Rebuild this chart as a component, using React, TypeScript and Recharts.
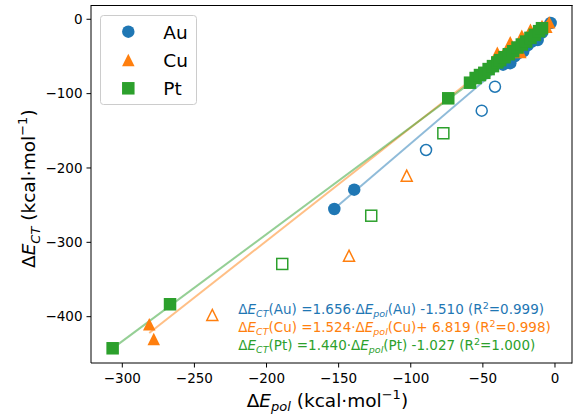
import React from 'react';
import { ScatterChart, Scatter, XAxis, YAxis, ReferenceLine } from 'recharts';

const FONT = '"DejaVu Sans", sans-serif';
const BLUE = '#1f77b4';
const ORANGE = '#ff7f0e';
const GREEN = '#2ca02c';

const xTicks = [-300, -250, -200, -150, -100, -50, 0];
const yTicks = [0, -100, -200, -300, -400];
const xDomain = [-321.7, 11.8];
const yDomain = [-462.3, 19.2];

// Au (filled = used in fit, open = excluded)
const auFilled = [
  { x: -153.0, y: -255.2 }, { x: -139.2, y: -229.2 },
  { x: -36, y: -61 }, { x: -33, y: -58 }, { x: -31, y: -59 }, { x: -28, y: -50 },
  { x: -25, y: -45 }, { x: -22, y: -43 }, { x: -19, y: -35 }, { x: -16, y: -30 },
  { x: -14, y: -27 }, { x: -12, y: -28 }, { x: -9, y: -18 }, { x: -3, y: -5 },
];
const auOpen = [
  { x: -41.6, y: -90.7 }, { x: -50.8, y: -122.9 }, { x: -89.4, y: -175.8 },
];

// Cu
const cuFilled = [
  { x: -281.3, y: -410.2 }, { x: -278.2, y: -430.0 },
  { x: -42, y: -57 }, { x: -40, y: -45 }, { x: -36, y: -48 }, { x: -31, y: -31 },
  { x: -28, y: -38 }, { x: -24, y: -44 }, { x: -23, y: -22 }, { x: -20, y: -27 },
  { x: -17, y: -14 }, { x: -16, y: -19 }, { x: -12, y: -12 }, { x: -9, y: -9 },
  { x: -6, y: -10 }, { x: -4, y: -4 },
];
const cuOpen = [
  { x: -102.8, y: -210.4 }, { x: -142.8, y: -318.0 }, { x: -237.6, y: -397.7 },
];

// Pt
const ptFilled = [
  { x: -306.7, y: -442.5 }, { x: -266.9, y: -383.3 }, { x: -74.0, y: -106.3 },
  { x: -58.9, y: -85.3 }, { x: -55, y: -79 }, { x: -52, y: -75 }, { x: -49, y: -72 },
  { x: -46, y: -67 }, { x: -43, y: -63 }, { x: -40, y: -58 }, { x: -38, y: -55 },
  { x: -35, y: -51 }, { x: -32, y: -47 }, { x: -29, y: -43 }, { x: -26, y: -38 },
  { x: -23, y: -34 }, { x: -20, y: -30 }, { x: -17, y: -25 }, { x: -14, y: -21 },
  { x: -11, y: -16 }, { x: -9, y: -12 },
];
const ptOpen = [
  { x: -77.4, y: -153.3 }, { x: -127.4, y: -264.2 }, { x: -189.1, y: -329.1 },
];

// Linear fits shown in annotation
const metals = ['Au', 'Cu', 'Pt'];
const slopes = [1.656, 1.524, 1.44];
const intercepts = [-1.51, 6.819, -1.027];
const r2s = [0.999, 0.998, 1.0];
const colors = [BLUE, ORANGE, GREEN];
const filledSets = [auFilled, cuFilled, ptFilled];

const MS = 12.5;

const fmt = (v: number) => (v < 0 ? '\u2212' + Math.abs(v) : String(v));

const circleShape = (color: string, open: boolean) => (p: any) => (
  <circle cx={p.cx} cy={p.cy} r={MS / 2 - (open ? 0.75 : 0)}
    fill={open ? 'none' : color} stroke={open ? color : 'none'} strokeWidth={1.5} />
);
const triShape = (color: string, open: boolean) => (p: any) => {
  const h = MS / 2 - (open ? 0.75 : 0);
  const d = `M${p.cx},${p.cy - h} L${p.cx - h},${p.cy + h} L${p.cx + h},${p.cy + h} Z`;
  return <path d={d} fill={open ? 'none' : color} stroke={open ? color : 'none'} strokeWidth={1.5} strokeLinejoin="miter" />;
};
const sqShape = (color: string, open: boolean) => (p: any) => {
  const h = MS / 2 - (open ? 0.75 : 0);
  return <rect x={p.cx - h} y={p.cy - h} width={2 * h} height={2 * h}
    fill={open ? 'none' : color} stroke={open ? color : 'none'} strokeWidth={1.5} />;
};

function fitSegment(points: { x: number; y: number }[], slope: number, intercept: number) {
  const xs = points.map((p) => p.x);
  const x0 = Math.min(...xs);
  const x1 = Math.max(...xs);
  return [
    { x: x0, y: slope * x0 + intercept },
    { x: x1, y: slope * x1 + intercept },
  ];
}

const axisTick = { fontSize: 13.5, fill: '#000', fontFamily: FONT };

function Overlay() {
  const sub = 9.5;
  const annFs = 13.5;
  const labFs = 18.5;
  const labSub = 13;
  return (
    <svg width={573} height={416} style={{ position: 'absolute', left: 0, top: 0, pointerEvents: 'none' }}
      fontFamily={FONT}>
      {/* axes frame (top/right spines) */}
      <line x1={91} y1={5.5} x2={572.5} y2={5.5} stroke="#000" strokeWidth={1} />
      <line x1={572} y1={5} x2={572} y2={363.5} stroke="#000" strokeWidth={1} />

      {/* legend */}
      <rect x={100.5} y={15.5} width={96} height={89} rx={3} ry={3} fill="#fff" fillOpacity={0.8} stroke="#cccccc" strokeWidth={1} />
      <circle cx={128.3} cy={31.7} r={MS / 2} fill={BLUE} />
      <path d={`M128.3,${60 - MS / 2} L${128.3 - MS / 2},${60 + MS / 2} L${128.3 + MS / 2},${60 + MS / 2} Z`} fill={ORANGE} />
      <rect x={128.3 - MS / 2} y={88.3 - MS / 2} width={MS} height={MS} fill={GREEN} />
      <text x={163.3} y={38.6} fontSize={labFs} fill="#000">Au</text>
      <text x={163.3} y={66.6} fontSize={labFs} fill="#000">Cu</text>
      <text x={163.3} y={94.6} fontSize={labFs} fill="#000">Pt</text>

      {/* x label */}
      <text x={246.7} y={406.7} fontSize={labFs} fill="#000" style={{ whiteSpace: 'pre' }}>
        {'\u0394'}<tspan fontStyle="italic">E</tspan>
        <tspan fontStyle="italic" fontSize={labSub} dy={4.5}>pol</tspan>
        <tspan dy={-4.5}>{' (kcal\u00b7mol'}</tspan>
        <tspan fontSize={labSub} dy={-8}>{'\u22121'}</tspan>
        <tspan dy={8}>)</tspan>
      </text>

      {/* y label */}
      <text transform="translate(35,268) rotate(-90)" fontSize={labFs} fill="#000" style={{ whiteSpace: 'pre' }}>
        {'\u0394'}<tspan fontStyle="italic">E</tspan>
        <tspan fontStyle="italic" fontSize={labSub} dy={4.5}>CT</tspan>
        <tspan dy={-4.5}>{' (kcal\u00b7mol'}</tspan>
        <tspan fontSize={labSub} dy={-8}>{'\u22121'}</tspan>
        <tspan dy={8}>)</tspan>
      </text>

      {/* fit annotation */}
      {metals.map((m, i) => {
        const b = intercepts[i];
        const bStr = b < 0 ? ' -' + Math.abs(b).toFixed(3) : '+ ' + b.toFixed(3);
        return (
          <text key={m} x={238.3} y={314.3 + i * 18} fontSize={annFs} fill={colors[i]} style={{ whiteSpace: 'pre' }}>
            {'\u0394'}<tspan fontStyle="italic">E</tspan>
            <tspan fontStyle="italic" fontSize={sub} dy={3}>CT</tspan>
            <tspan dy={-3}>{`(${m}) =${slopes[i].toFixed(3)}\u00b7\u0394`}</tspan>
            <tspan fontStyle="italic">E</tspan>
            <tspan fontStyle="italic" fontSize={sub} dy={3}>pol</tspan>
            <tspan dy={-3}>{`(${m})${bStr} (R`}</tspan>
            <tspan fontSize={sub} dy={-5.5}>2</tspan>
            <tspan dy={5.5}>{`=${r2s[i].toFixed(3)})`}</tspan>
          </text>
        );
      })}
    </svg>
  );
}

export default function App() {
  return (
    <div style={{ position: 'absolute', left: 0, top: 0, width: 573, height: 416, background: '#fff' }}>
      <ScatterChart width={573} height={416} margin={{ top: 5, right: 1, bottom: 0, left: 0 }}>
        <XAxis type="number" dataKey="x" domain={xDomain} ticks={xTicks} tickFormatter={fmt}
          height={53} tickSize={4.5} tickMargin={6} tick={axisTick}
          axisLine={{ stroke: '#000' }} tickLine={{ stroke: '#000' }} allowDataOverflow interval={0} />
        <YAxis type="number" dataKey="y" domain={yDomain} ticks={yTicks} tickFormatter={fmt}
          width={91} tickSize={4.5} tickMargin={4} tick={axisTick}
          axisLine={{ stroke: '#000' }} tickLine={{ stroke: '#000' }} allowDataOverflow interval={0} />

        <Scatter data={auFilled} shape={circleShape(BLUE, false)} isAnimationActive={false} />
        <Scatter data={auOpen} shape={circleShape(BLUE, true)} isAnimationActive={false} />
        <Scatter data={cuFilled} shape={triShape(ORANGE, false)} isAnimationActive={false} />
        <Scatter data={cuOpen} shape={triShape(ORANGE, true)} isAnimationActive={false} />
        <Scatter data={ptFilled} shape={sqShape(GREEN, false)} isAnimationActive={false} />
        <Scatter data={ptOpen} shape={sqShape(GREEN, true)} isAnimationActive={false} />

        {metals.map((m, i) => (
          <ReferenceLine key={m} segment={fitSegment(filledSets[i], slopes[i], intercepts[i])}
            stroke={colors[i]} strokeOpacity={0.5} strokeWidth={2} ifOverflow="visible" />
        ))}
      </ScatterChart>
      <Overlay />
    </div>
  );
}
